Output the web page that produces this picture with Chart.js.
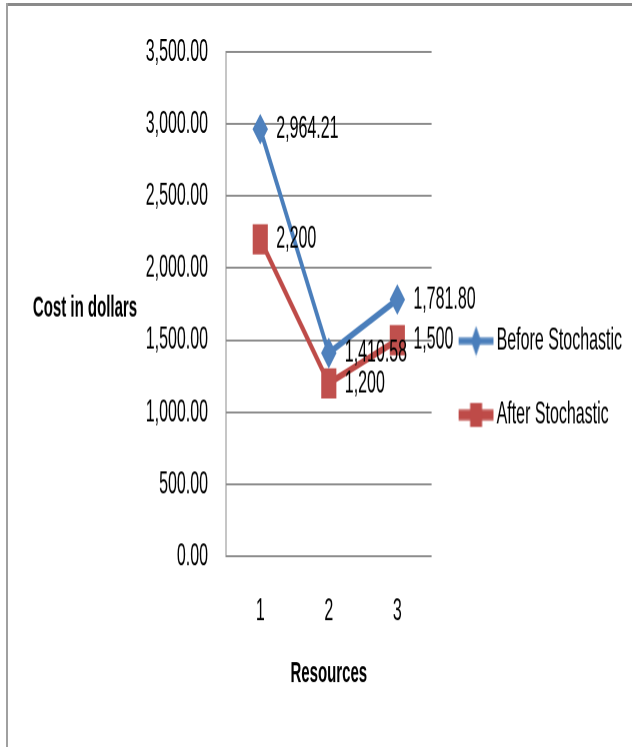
<!DOCTYPE html>
<html>
<head>
<meta charset="utf-8">
<script src="https://cdn.jsdelivr.net/npm/chart.js@4.4.1/dist/chart.umd.min.js"></script>
<style>
    html, body { margin: 0; padding: 0; background: #fff; overflow: hidden; width: 632px; height: 747px; }
    #wrap { position: absolute; left: 0; top: 0; width: 632px; height: 374px; transform: scaleY(1.9973); transform-origin: 0 0; }
    #frameTop { position: absolute; left: 6px; top: 3px; width: 626px; height: 3px; background: #8a8a8a; }
    #frameLeft { position: absolute; left: 6px; top: 3px; width: 2px; height: 744px; background: #a0a0a0; }
</style>
</head>
<body>
<div id="wrap"><canvas id="costChart"></canvas></div>
<div id="frameTop"></div>
<div id="frameLeft"></div>
<script>
// chart data
const categories = ["1", "2", "3"];
const beforeStochastic = [2964.21, 1410.58, 1781.80];
const afterStochastic = [2200, 1200, 1500];
const seriesNames = ["Before Stochastic", "After Stochastic"];
const labelDecimals = [2, 0];
const yMax = 3500;
const yStep = 500;

const FONT = "'Liberation Sans', Arial, sans-serif";
const BLUE = "#4A7EBB";
const RED = "#BE4B48";

function fmt(v, d) {
    return v.toLocaleString("en-US", { minimumFractionDigits: d, maximumFractionDigits: d });
}

// legend icons: line with marker in the middle
function makeIcon(color, lw, drawMarker) {
    const c = document.createElement("canvas");
    c.width = 46;
    c.height = 16;
    const g = c.getContext("2d");
    g.strokeStyle = color;
    g.lineWidth = lw;
    g.beginPath();
    g.moveTo(11, 8);
    g.lineTo(46, 8);
    g.stroke();
    g.fillStyle = color;
    drawMarker(g);
    return c;
}

const blueIcon = makeIcon(BLUE, 3.5, g => {
    g.beginPath();
    g.moveTo(28.5, 0.5);
    g.lineTo(33.5, 8);
    g.lineTo(28.5, 15.5);
    g.lineTo(23.5, 8);
    g.closePath();
    g.fill();
});
const redIcon = makeIcon(RED, 5.5, g => {
    g.fillRect(22.5, 2, 12, 12);
});
const legendIcons = [blueIcon, redIcon];

const valueLabels = {
    id: "valueLabels",
    afterDatasetsDraw(chart) {
        const ctx = chart.ctx;
        ctx.save();
        ctx.font = "16px " + FONT;
        ctx.fillStyle = "#000";
        ctx.textAlign = "left";
        ctx.textBaseline = "middle";
        chart.data.datasets.forEach((ds, i) => {
            chart.getDatasetMeta(i).data.forEach((pt, j) => {
                ctx.fillText(fmt(ds.data[j], labelDecimals[i]), pt.x + 16, pt.y);
            });
        });
        ctx.restore();
    }
};

// horizontal y-axis title
const yTitle = {
    id: "yTitle",
    afterDraw(chart) {
        const a = chart.chartArea;
        const ctx = chart.ctx;
        ctx.save();
        ctx.font = "bold 15px " + FONT;
        ctx.fillStyle = "#000";
        ctx.textAlign = "center";
        ctx.textBaseline = "middle";
        ctx.fillText("Cost in dollars", 85, (a.top + a.bottom) / 2 + 2);
        ctx.restore();
    }
};

new Chart(document.getElementById("costChart"), {
    type: "line",
    data: {
        labels: categories,
        datasets: [{
            label: seriesNames[0],
            data: beforeStochastic,
            borderColor: BLUE,
            backgroundColor: "#4F81BD",
            borderWidth: 3.5,
            pointStyle: "rectRot",
            pointRadius: 7,
            pointBorderWidth: 1,
            pointBorderColor: "#4F81BD",
            tension: 0
        }, {
            label: seriesNames[1],
            data: afterStochastic,
            borderColor: RED,
            backgroundColor: "#C0504D",
            borderWidth: 3.5,
            pointStyle: "rect",
            pointRadius: 10,
            pointBorderWidth: 1,
            pointBorderColor: "#C0504D",
            tension: 0
        }]
    },
    options: {
        responsive: true,
        maintainAspectRatio: false,
        animation: false,
        devicePixelRatio: 2,
        layout: { padding: { top: 4.5, right: 0, bottom: 0, left: 0 } },
        plugins: {
            tooltip: { enabled: false },
            legend: {
                position: "right",
                maxWidth: 260,
                labels: {
                    usePointStyle: true,
                    pointStyleWidth: 36,
                    padding: 21,
                    color: "#000",
                    font: { family: FONT, size: 16 },
                    generateLabels: chart => chart.data.datasets.map((ds, i) => ({
                        text: ds.label,
                        pointStyle: legendIcons[i],
                        fillStyle: ds.backgroundColor,
                        strokeStyle: ds.borderColor,
                        lineWidth: 0,
                        hidden: false,
                        datasetIndex: i
                    }))
                }
            }
        },
        scales: {
            x: {
                offset: true,
                grid: { display: false, drawTicks: false },
                border: { display: false },
                ticks: { padding: 18, maxRotation: 0, color: "#000", font: { family: FONT, size: 16 } },
                title: {
                    display: true,
                    text: "Resources",
                    color: "#000",
                    font: { family: FONT, size: 15, weight: "bold" },
                    padding: { top: 12, bottom: 27.5 }
                },
                afterFit: s => {
                    s.height = 95.5;
                }
            },
            y: {
                min: 0,
                max: yMax,
                ticks: {
                    stepSize: yStep,
                    padding: 18,
                    color: "#000",
                    font: { family: FONT, size: 16 },
                    callback: v => fmt(v, 2)
                },
                grid: { color: "#8c8c8c", lineWidth: 1, drawTicks: false },
                border: { display: true, color: "#8c8c8c", width: 1 },
                afterFit: s => {
                    s.width = 226;
                    s.paddingTop = 26;
                }
            }
        }
    },
    plugins: [valueLabels, yTitle]
});
</script>
</body>
</html>
